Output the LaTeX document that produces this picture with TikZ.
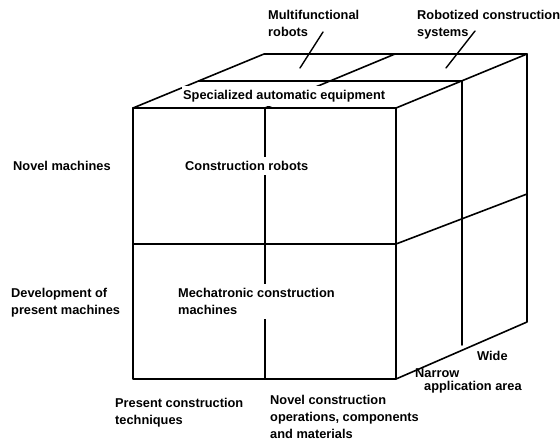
\documentclass[tikz,border=0pt]{standalone}
\usepackage{fontspec}
\setmainfont{Liberation Sans}
\begin{document}
\begin{tikzpicture}[x=1pt,y=-1pt,
  edge/.style={line width=1.6pt, line cap=round, line join=round},
  leader/.style={line width=1.4pt, line cap=round},
  lbl/.style={font=\bfseries\fontsize{12.8}{17}\selectfont, inner sep=0pt, align=left, anchor=north west},
  cell/.style={lbl, fill=white, inner xsep=1pt, inner ysep=4pt}]
\useasboundingbox (0,0) rectangle (560,440);
% cube corners
\coordinate (A) at (133,108);
\coordinate (B) at (396,108);
\coordinate (C) at (396,379);
\coordinate (D) at (133,379);
\coordinate (E) at (264,54);
\coordinate (F) at (527,54);
\coordinate (G) at (527,322);
% mid points
\coordinate (fmT) at (265,108);
\coordinate (fmB) at (265,379);
\coordinate (fhL) at (133,244);
\coordinate (fhR) at (396,244);
\coordinate (tmL) at (199,81);
\coordinate (tmR) at (462,81);
\coordinate (tbM) at (395,54);
\coordinate (rvB) at (462,345);
\coordinate (rhR) at (527,194);
% front face
\draw[edge] (A) -- (B) -- (C) -- (D) -- cycle;
\draw[edge] (fhL) -- (fhR);
\draw[edge] (fmT) -- (fmB);
% top face
\draw[edge] (A) -- (E) -- (F) -- (B);
\draw[edge] (tmL) -- (tmR);
\draw[edge] (fmT) -- (tbM);
% right face
\draw[edge] (F) -- (G) -- (C);
\draw[edge] (tmR) -- (rvB);
\draw[edge] (fhR) -- (rhR);
% labels on cube
\node[cell] (spec) at (182,86) {Specialized automatic equipment};
\node[cell] (crob) at (184,157) {Construction robots};
\node[cell] (mech) at (177,284) {Mechatronic construction\\machines};
% outer labels
\node[lbl] (multi) at (268,10) {Multifunctional\\robots};
\node[lbl] (rsys) at (417,10) {Robotized construction\\systems};
\coordinate (multiA) at (323,32);
\coordinate (multiB) at (300,68);
\coordinate (rsysA) at (475,31);
\coordinate (rsysB) at (446,68);
\draw[leader] (multiA) -- (multiB);
\draw[leader] (rsysA) -- (rsysB);
\node[lbl] (novm) at (13,161) {Novel machines};
\node[lbl] (devm) at (11,288) {Development of\\present machines};
\node[lbl] (pres) at (115,398) {Present construction\\techniques};
\node[lbl] (novc) at (270,395) {Novel construction\\operations, components\\and materials};
\node[lbl] (wide) at (477,351) {Wide};
\node[lbl] (narr) at (415,368) {Narrow};
\node[lbl] (appl) at (424,381) {application area};
\end{tikzpicture}
\end{document}
